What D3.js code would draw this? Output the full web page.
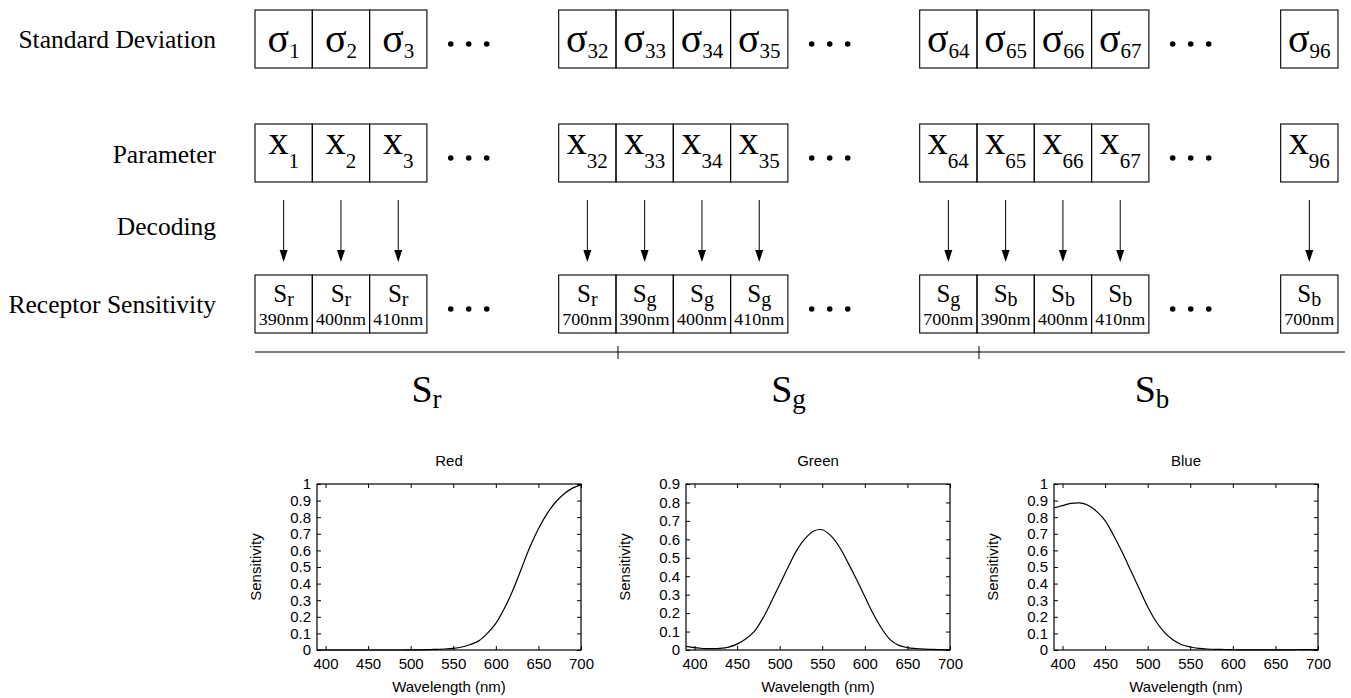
<!DOCTYPE html>
<html lang="en">
<head>
<meta charset="utf-8">
<title>Receptor Sensitivity Encoding</title>
<script src="https://d3js.org/d3.v7.min.js"></script>
<style>
  body { margin: 0; background: #fff; }
  .serif { font-family: "Liberation Serif", "Times New Roman", serif; fill: #000; }
  .axis text { font-family: "Liberation Sans", Arial, sans-serif; font-size: 15px; fill: #000; }
  .axis line { stroke: #000; }
  .axis path { display: none; }
  .plotlabel { font-family: "Liberation Sans", Arial, sans-serif; font-size: 15px; fill: #000; }
</style>
</head>
<body>
<svg id="chart" width="1351" height="698"></svg>
<script>
// ---- data ----
const rowLabels = ["Standard Deviation", "Parameter", "Decoding", "Receptor Sensitivity"];
const groupIndices = [[1, 2, 3], [32, 33, 34, 35], [64, 65, 66, 67], [96]];
const groupChannels = [["r", "r", "r"], ["r", "g", "g", "g"], ["g", "b", "b", "b"], ["b"]];
const groupWavelengths = [[390, 400, 410], [700, 390, 400, 410], [700, 390, 400, 410], [700]];
const channelNames = ["r", "g", "b"];

const chartTitles = ["Red", "Green", "Blue"];
const sensMax = [1, 0.9, 1];
const xTicks = [400, 450, 500, 550, 600, 650, 700];
const wavelengths = [390, 400, 410, 420, 430, 440, 450, 460, 470, 480, 490, 500, 510, 520, 530, 540,
                     550, 560, 570, 580, 590, 600, 610, 620, 630, 640, 650, 660, 670, 680, 690, 700];
const redSens = [0, 0, 0, 0, 0, 0, 0, 0, 0, 0, 0, 0.001, 0.001, 0.002, 0.004, 0.006,
                 0.01, 0.018, 0.033, 0.055, 0.10, 0.16, 0.25, 0.36, 0.49, 0.62, 0.73, 0.82, 0.89, 0.94, 0.975, 0.995];
const greenSens = [0.020, 0.013, 0.008, 0.007, 0.009, 0.016, 0.032, 0.06, 0.10, 0.17, 0.26, 0.355, 0.45, 0.54, 0.605, 0.645,
                   0.652, 0.62, 0.56, 0.475, 0.385, 0.29, 0.195, 0.115, 0.055, 0.025, 0.013, 0.008, 0.005, 0.003, 0.002, 0.001];
const blueSens = [0.856, 0.870, 0.883, 0.886, 0.872, 0.835, 0.78, 0.69, 0.59, 0.48, 0.37, 0.26, 0.17, 0.105, 0.06, 0.032,
                  0.018, 0.01, 0.006, 0.004, 0.003, 0.002, 0.001, 0.001, 0.001, 0.001, 0.001, 0.001, 0.001, 0.002, 0.002, 0.002];

const svg = d3.select("#chart");

// ---- diagram layout ----
const boxW = 57.3, boxH = 58, gapUnits = 2.3;
const rowTops = [10, 124, 275];
const labelBaselines = [48, 163, 235, 313];

// flatten boxes, each box is one unit, groups separated by a gap
let boxes = [], unit = 0;
groupIndices.forEach((g, gi) => {
    g.forEach((idx, k) => {
        boxes.push({group: gi, idx: idx, ch: groupChannels[gi][k], wl: groupWavelengths[gi][k], u: unit});
        unit += 1;
    });
    if (gi < groupIndices.length - 1) unit += gapUnits;
});
const totalUnits = unit;
const xs = d3.scaleLinear().domain([0, totalUnits]).range([255, 255 + totalUnits * boxW]);

// row labels on the left
svg.selectAll(".rowlabel")
    .data(rowLabels)
    .join("text")
    .attr("class", "serif")
    .attr("x", 216)
    .attr("y", (d, i) => labelBaselines[i])
    .attr("text-anchor", "end")
    .style("font-size", "25.5px")
    .text(d => d);

// boxes for the three rows
rowTops.forEach((top, r) => {
    const row = svg.append("g");
    row.selectAll("rect")
        .data(boxes)
        .join("rect")
        .attr("x", d => xs(d.u))
        .attr("y", top)
        .attr("width", boxW)
        .attr("height", boxH)
        .attr("fill", "none")
        .attr("stroke", "#000")
        .attr("stroke-width", 1.1);

    // three dots after every group but the last
    const dotsX = [];
    boxes.forEach((d, i) => {
        if (i < boxes.length - 1 && boxes[i + 1].group !== d.group) dotsX.push(xs(d.u + 1.73));
    });
    dotsX.forEach(cx => {
        row.selectAll(null)
            .data([-18, 0, 18])
            .join("circle")
            .attr("cx", o => cx + o)
            .attr("cy", top + 34)
            .attr("r", 2.8)
            .attr("fill", "#000");
    });
});

// sigma row
const sig = svg.append("g").selectAll("text")
    .data(boxes)
    .join("text")
    .attr("class", "serif")
    .attr("x", d => xs(d.u + 0.5))
    .attr("y", rowTops[0] + 42)
    .attr("text-anchor", "middle");
sig.append("tspan").style("font-size", "40px").text("\u03c3");
sig.append("tspan").style("font-size", "21px").attr("dy", 6).text(d => d.idx);

// parameter row
const par = svg.append("g").selectAll("text")
    .data(boxes)
    .join("text")
    .attr("class", "serif")
    .attr("x", d => xs(d.u + 0.5))
    .attr("y", rowTops[1] + 30)
    .attr("text-anchor", "middle");
par.append("tspan").style("font-size", "40px").text("x");
par.append("tspan").style("font-size", "21px").attr("dy", 14).text(d => d.idx);

// receptor sensitivity row
const rec = svg.append("g").selectAll("g")
    .data(boxes)
    .join("g");
const sText = rec.append("text")
    .attr("class", "serif")
    .attr("x", d => xs(d.u + 0.5))
    .attr("y", rowTops[2] + 27)
    .attr("text-anchor", "middle");
sText.append("tspan").style("font-size", "25px").text("S");
sText.append("tspan").style("font-size", "20px").attr("dy", 4).text(d => d.ch);
rec.append("text")
    .attr("class", "serif")
    .attr("x", d => xs(d.u + 0.5))
    .attr("y", rowTops[2] + 50)
    .attr("text-anchor", "middle")
    .style("font-size", "16.5px")
    .attr("textLength", 50)
    .attr("lengthAdjust", "spacingAndGlyphs")
    .text(d => d.wl + "nm");

// decoding arrows
svg.append("g").selectAll("line")
    .data(boxes)
    .join("line")
    .attr("x1", d => xs(d.u + 0.5))
    .attr("x2", d => xs(d.u + 0.5))
    .attr("y1", 200)
    .attr("y2", 255)
    .attr("stroke", "#000")
    .attr("stroke-width", 1);
svg.append("g").selectAll("path")
    .data(boxes)
    .join("path")
    .attr("d", d => `M${xs(d.u + 0.5) - 4},250 L${xs(d.u + 0.5) + 4},250 L${xs(d.u + 0.5)},262 Z`)
    .attr("fill", "#000");

// channel line with boundaries
const lineY = 352, lineL = 255, lineR = 1345;
const bounds = boxes.filter((d, i) => i > 0 && d.ch !== boxes[i - 1].ch).map(d => xs(d.u) + 2);
svg.append("line")
    .attr("x1", lineL).attr("x2", lineR)
    .attr("y1", lineY).attr("y2", lineY)
    .attr("stroke", "#000").attr("stroke-width", 1.2);
svg.selectAll(".bound")
    .data(bounds)
    .join("line")
    .attr("x1", d => d).attr("x2", d => d)
    .attr("y1", lineY - 6).attr("y2", lineY + 7)
    .attr("stroke", "#000");
const edges = [lineL].concat(bounds, [lineR]);
const chLab = svg.append("g").selectAll("text")
    .data(channelNames)
    .join("text")
    .attr("class", "serif")
    .attr("x", (d, i) => (edges[i] + edges[i + 1]) / 2 - 10)
    .attr("y", 402)
    .attr("text-anchor", "middle");
chLab.append("tspan").style("font-size", "38px").text("S");
chLab.append("tspan").style("font-size", "27px").attr("dy", 6).text(d => d);

// ---- sensitivity charts ----
const plotW = 264, plotTop = 484, plotBottom = 650;
const plotLefts = [317, 686, 1054];
const series = [redSens, greenSens, blueSens];

series.forEach((vals, i) => {
    const left = plotLefts[i];
    const x = d3.scaleLinear().domain([390, 700]).range([left, left + plotW]);
    const y = d3.scaleLinear().domain([0, sensMax[i]]).range([plotBottom, plotTop]);
    const yTicks = y.ticks(Math.round(sensMax[i] * 10));
    const g = svg.append("g");

    g.append("g").attr("class", "axis")
        .attr("transform", `translate(0,${plotBottom})`)
        .call(d3.axisBottom(x).tickValues(xTicks).tickSize(-4).tickPadding(8));
    g.append("g").attr("class", "axis")
        .attr("transform", `translate(0,${plotTop})`)
        .call(d3.axisTop(x).tickValues(xTicks).tickSize(-4).tickFormat(""));
    g.append("g").attr("class", "axis")
        .attr("transform", `translate(${left},0)`)
        .call(d3.axisLeft(y).tickValues(yTicks).tickSize(-4).tickPadding(6).tickFormat(d3.format("~g")));
    g.append("g").attr("class", "axis")
        .attr("transform", `translate(${left + plotW},0)`)
        .call(d3.axisRight(y).tickValues(yTicks).tickSize(-4).tickFormat(""));

    g.append("rect")
        .attr("x", left).attr("y", plotTop)
        .attr("width", plotW).attr("height", plotBottom - plotTop)
        .attr("fill", "none").attr("stroke", "#000").attr("stroke-width", 1.2);

    g.append("path")
        .datum(wavelengths.map((w, k) => [w, vals[k]]))
        .attr("fill", "none")
        .attr("stroke", "#000")
        .attr("stroke-width", 1.2)
        .attr("d", d3.line().x(d => x(d[0])).y(d => y(d[1])).curve(d3.curveCatmullRom.alpha(0.5)));

    g.append("text").attr("class", "plotlabel")
        .attr("x", left + plotW / 2).attr("y", 466)
        .attr("text-anchor", "middle").text(chartTitles[i]);
    g.append("text").attr("class", "plotlabel")
        .attr("x", left + plotW / 2).attr("y", 692)
        .attr("text-anchor", "middle").text("Wavelength (nm)");
    g.append("text").attr("class", "plotlabel")
        .attr("transform", `translate(${left - 56},${(plotTop + plotBottom) / 2}) rotate(-90)`)
        .attr("text-anchor", "middle").text("Sensitivity");
});
</script>
</body>
</html>
